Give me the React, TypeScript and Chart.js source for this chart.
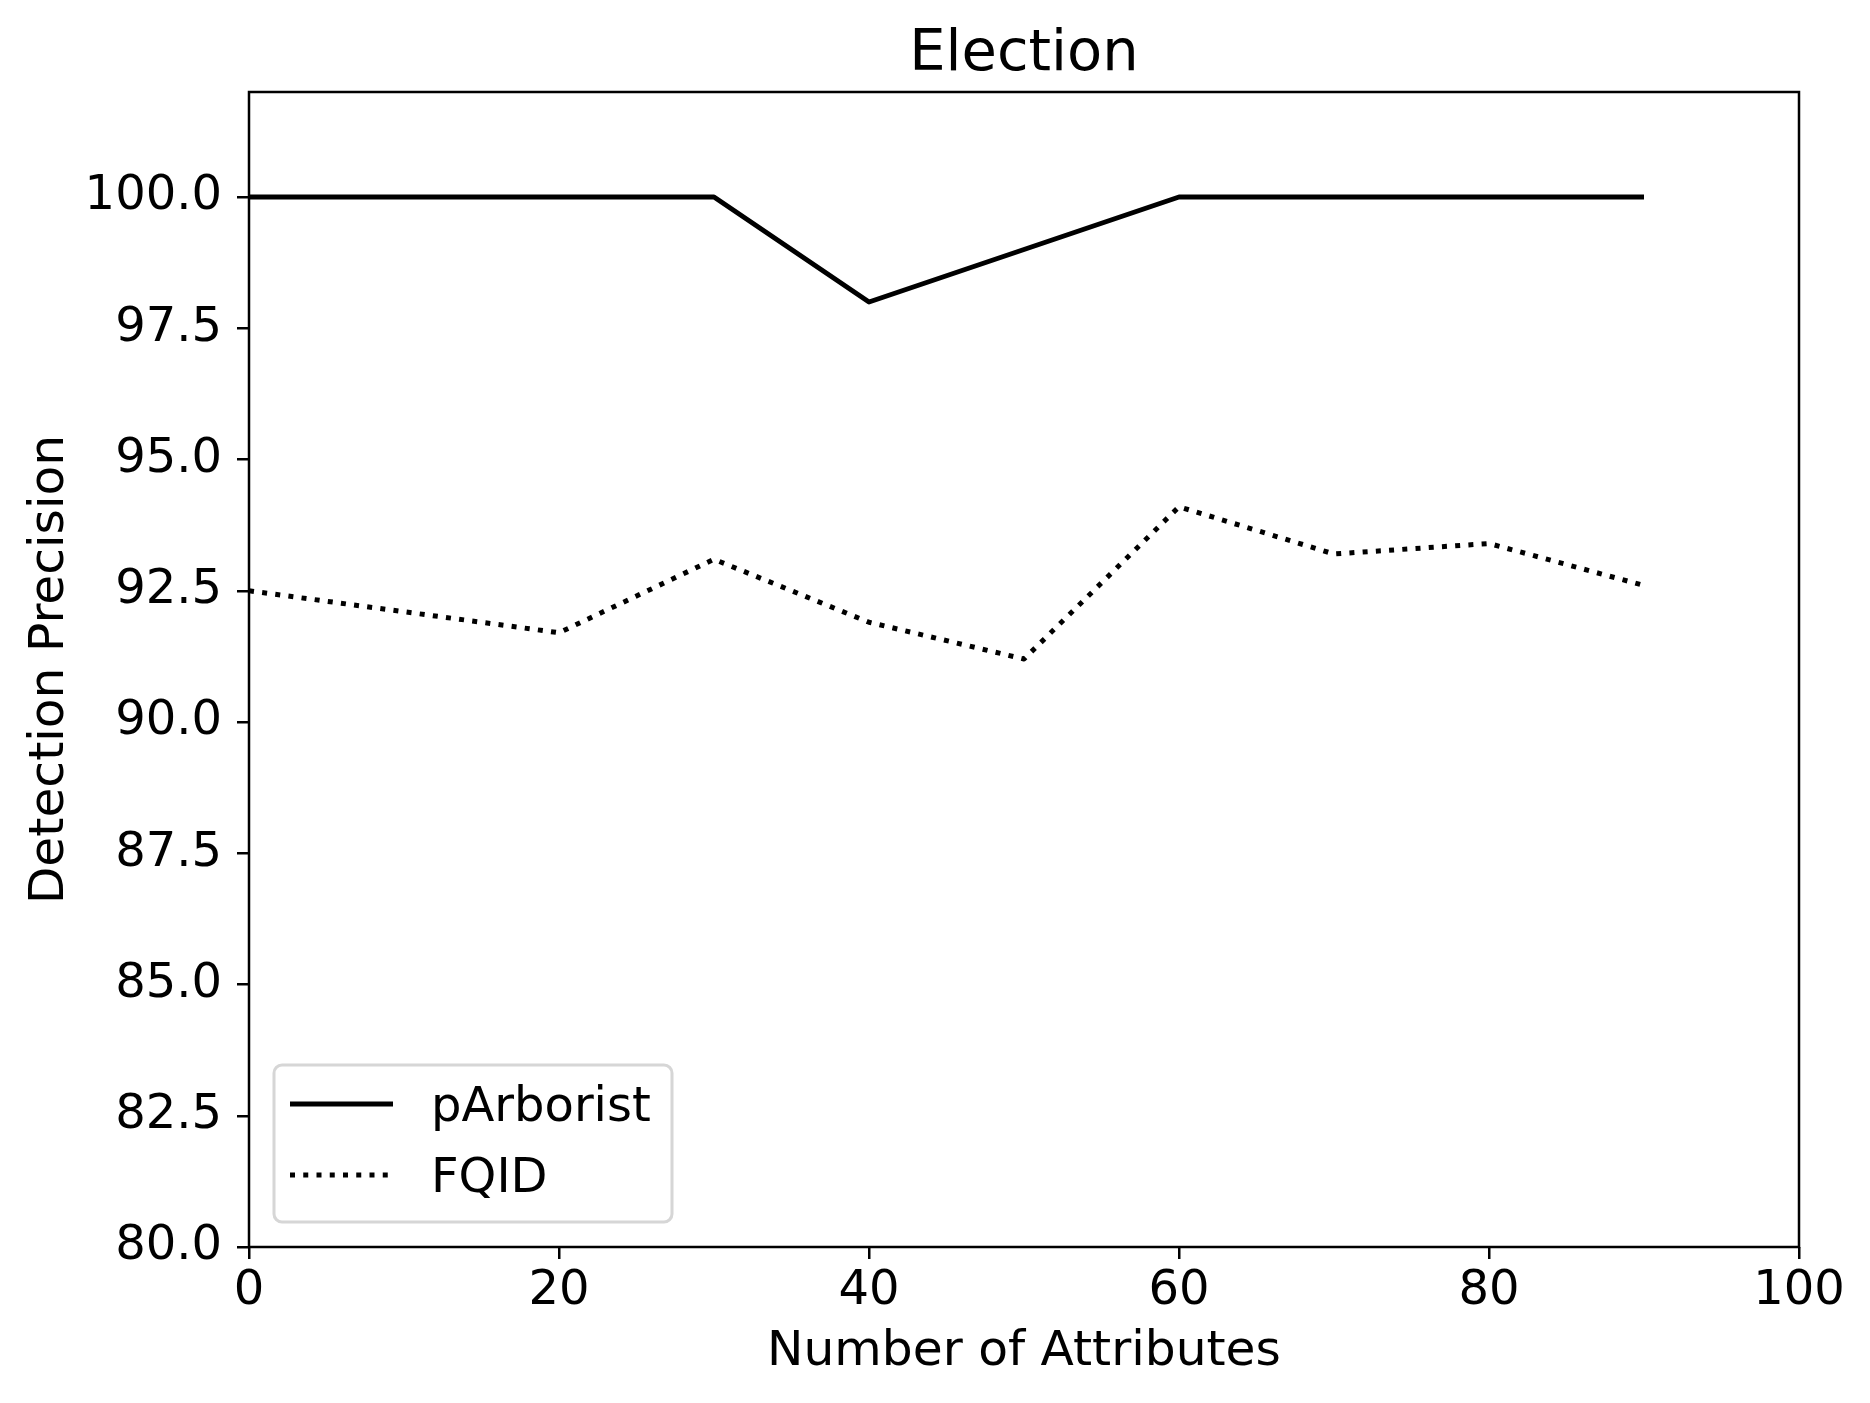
import React, { useEffect, useRef } from "react";
import { Chart, registerables } from "chart.js";

Chart.register(...registerables);

// ---- data ----
const attributes = [0, 10, 20, 30, 40, 50, 60, 70, 80, 90];
const pArboristValues = [100, 100, 100, 100, 98, 99, 100, 100, 100, 100];
const fqidValues = [92.5, 92.1, 91.7, 93.1, 91.9, 91.2, 94.1, 93.2, 93.4, 92.6];
const seriesLabels = ["pArborist", "FQID"];
const xTickValues = [0, 20, 40, 60, 80, 100];
const yTickValues = [80, 82.5, 85, 87.5, 90, 92.5, 95, 97.5, 100];
const chartTitle = "Election";
const xAxisTitle = "Number of Attributes";
const yAxisTitle = "Detection Precision";

const FONT = '"DejaVu Sans", "Liberation Sans", sans-serif';
const FS = 48;
const FS_AXIS = 48.7;

export default function App() {
  const ref = useRef<HTMLCanvasElement | null>(null);

  useEffect(() => {
    const canvas = ref.current;
    if (!canvas) return;

    const framePlugin = {
      id: "mplFrame",
      afterDatasetsDraw(chart: any) {
        const { ctx, chartArea } = chart;
        ctx.save();
        ctx.strokeStyle = "#000";
        ctx.lineWidth = 2.5;
        ctx.lineCap = "square";
        ctx.strokeRect(
          chartArea.left,
          chartArea.top,
          chartArea.right - chartArea.left,
          chartArea.bottom - chartArea.top
        );
        ctx.restore();
      },
    };

    const titlePlugin = {
      id: "mplTitle",
      afterDraw(chart: any) {
        const { ctx, chartArea } = chart;
        ctx.save();
        ctx.font = `57.5px ${FONT}`;
        ctx.fillStyle = "#000";
        ctx.textAlign = "center";
        ctx.textBaseline = "alphabetic";
        ctx.fillText(chartTitle, (chartArea.left + chartArea.right) / 2, 70);
        ctx.restore();
      },
    };

    const legendPlugin = {
      id: "mplLegend",
      afterDraw(chart: any) {
        const { ctx, chartArea } = chart;
        const bx = chartArea.left + 25;
        const bw = 398;
        const bh = 157;
        const by = chartArea.bottom - 25 - bh;
        ctx.save();
        ctx.beginPath();
        (ctx as any).roundRect(bx, by, bw, bh, 8);
        ctx.fillStyle = "rgba(255,255,255,0.8)";
        ctx.fill();
        ctx.strokeStyle = "#d6d6d6";
        ctx.lineWidth = 3;
        ctx.stroke();
        const rows = [by + 39, by + 110];
        chart.data.datasets.forEach((ds: any, i: number) => {
          const y = rows[i];
          ctx.beginPath();
          ctx.strokeStyle = ds.borderColor;
          ctx.lineWidth = ds.borderWidth;
          ctx.lineCap = ds.borderCapStyle || "butt";
          ctx.setLineDash(ds.borderDash || []);
          ctx.moveTo(bx + 16, y);
          ctx.lineTo(bx + 119, y);
          ctx.stroke();
          ctx.setLineDash([]);
          ctx.font = `${FS}px ${FONT}`;
          ctx.fillStyle = "#000";
          ctx.textAlign = "left";
          ctx.textBaseline = "alphabetic";
          ctx.fillText(ds.label, bx + 157, y + 17);
        });
        ctx.restore();
      },
    };

    const chart = new Chart(canvas, {
      type: "line",
      data: {
        datasets: [
          {
            label: seriesLabels[0],
            data: attributes.map((x, i) => ({ x, y: pArboristValues[i] })),
            borderColor: "#000",
            borderWidth: 5,
            borderCapStyle: "butt",
            borderJoinStyle: "round",
            pointRadius: 0,
            tension: 0,
            fill: false,
          },
          {
            label: seriesLabels[1],
            data: attributes.map((x, i) => ({ x, y: fqidValues[i] })),
            borderColor: "#000",
            borderWidth: 5,
            borderDash: [5, 8.25],
            borderCapStyle: "butt",
            borderJoinStyle: "round",
            pointRadius: 0,
            tension: 0,
            fill: false,
          },
        ],
      },
      options: {
        animation: false,
        responsive: false,
        devicePixelRatio: 1,
        layout: { padding: { top: 92, right: 71, bottom: 0, left: 0 } },
        plugins: {
          legend: { display: false },
          title: { display: false },
          tooltip: { enabled: false },
        },
        scales: {
          x: {
            type: "linear",
            min: 0,
            max: 100,
            afterBuildTicks: (scale: any) => {
              scale.ticks = xTickValues.map((v) => ({ value: v }));
            },
            afterFit: (scale: any) => {
              scale.height = 156;
            },
            border: { display: false },
            grid: {
              display: true,
              drawOnChartArea: false,
              drawTicks: true,
              tickLength: 12,
              tickWidth: 2.5,
              tickColor: "#000",
              lineWidth: 2.5,
              color: "#000",
            },
            ticks: {
              autoSkip: false,
              maxRotation: 0,
              padding: 4,
              color: "#000",
              font: { family: FONT, size: FS },
              callback: (v: any) => String(v),
            },
            title: {
              display: true,
              text: xAxisTitle,
              color: "#000",
              font: { family: FONT, size: FS_AXIS },
              padding: { top: 0, bottom: 21 },
            },
          },
          y: {
            type: "linear",
            min: 80,
            max: 102,
            afterBuildTicks: (scale: any) => {
              scale.ticks = yTickValues.map((v) => ({ value: v }));
            },
            afterFit: (scale: any) => {
              scale.width = 249;
            },
            border: { display: false },
            grid: {
              display: true,
              drawOnChartArea: false,
              drawTicks: true,
              tickLength: 12,
              tickWidth: 2.5,
              tickColor: "#000",
              lineWidth: 2.5,
              color: "#000",
            },
            ticks: {
              autoSkip: false,
              padding: 15,
              color: "#000",
              font: { family: FONT, size: FS },
              callback: (v: any) => Number(v).toFixed(1),
            },
            title: {
              display: true,
              text: yAxisTitle,
              color: "#000",
              font: { family: FONT, size: FS_AXIS },
              padding: { top: 21, bottom: 0 },
            },
          },
        },
      },
      plugins: [framePlugin, titlePlugin, legendPlugin],
    } as any);

    return () => {
      chart.destroy();
    };
  }, []);

  return (
    <div style={{ position: "absolute", left: 0, top: 0, width: 1870, height: 1403, background: "#fff" }}>
      <canvas ref={ref} width={1870} height={1403} style={{ display: "block", width: 1870, height: 1403 }} />
    </div>
  );
}
